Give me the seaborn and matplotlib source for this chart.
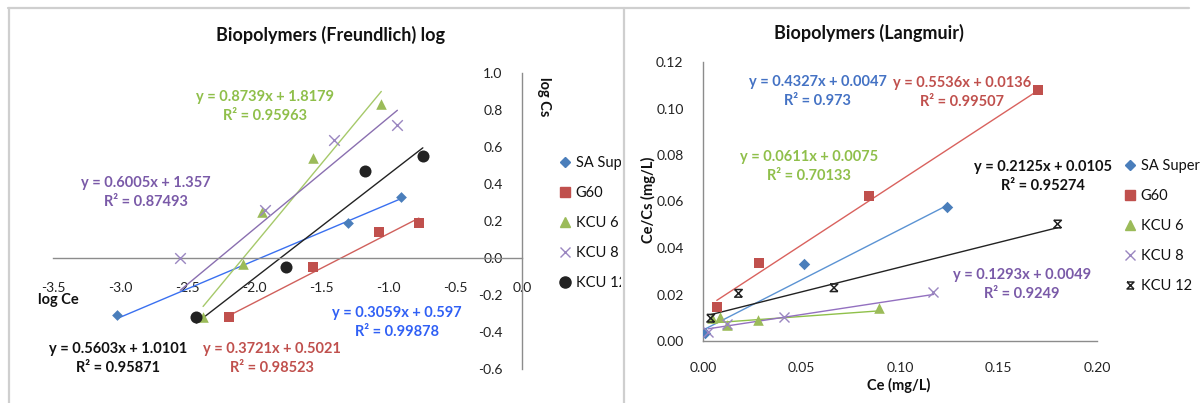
import numpy as np
import pandas as pd
import matplotlib
matplotlib.use("Agg")
import matplotlib.pyplot as plt
import seaborn as sns
from matplotlib.lines import Line2D
from matplotlib.path import Path
from matplotlib.transforms import Bbox, TransformedBbox

# ---------------- data ----------------
series = ["SA Super", "G60", "KCU 6", "KCU 8", "KCU 12"]

# Freundlich (log Ce, log Cs)
fr_sa_x = [-3.02, -1.30, -0.90]
fr_sa_y = [-0.31, 0.19, 0.33]
fr_g60_x = [-2.19, -1.56, -1.07, -0.77]
fr_g60_y = [-0.32, -0.05, 0.14, 0.19]
fr_k6_x = [-2.38, -2.08, -1.94, -1.56, -1.05]
fr_k6_y = [-0.32, -0.03, 0.25, 0.54, 0.83]
fr_k8_x = [-2.55, -1.92, -1.40, -0.93]
fr_k8_y = [0.00, 0.26, 0.64, 0.72]
fr_k12_x = [-2.43, -1.76, -1.17, -0.74]
fr_k12_y = [-0.32, -0.05, 0.47, 0.55]

fr_slope = [0.3059, 0.3721, 0.8739, 0.6005, 0.5603]
fr_icpt = [0.597, 0.5021, 1.8179, 1.357, 1.0101]
fr_r2 = ["0.99878", "0.98523", "0.95963", "0.87493", "0.95871"]

# Langmuir (Ce, Ce/Cs)
la_sa_x = [0.001, 0.0513, 0.124]
la_sa_y = [0.0033, 0.0331, 0.0578]
la_g60_x = [0.007, 0.0284, 0.0843, 0.170]
la_g60_y = [0.0148, 0.0334, 0.0624, 0.108]
la_k6_x = [0.0044, 0.0086, 0.012, 0.0278, 0.0893]
la_k6_y = [0.0097, 0.0105, 0.0069, 0.0090, 0.0141]
la_k8_x = [0.0027, 0.012, 0.041, 0.117]
la_k8_y = [0.0040, 0.0073, 0.0105, 0.0211]
la_k12_x = [0.0039, 0.018, 0.0665, 0.180]
la_k12_y = [0.0098, 0.0205, 0.0229, 0.0503]

la_slope = [0.4327, 0.5536, 0.0611, 0.1293, 0.2125]
la_icpt = [0.0047, 0.0136, 0.0075, 0.0049, 0.0105]
la_r2 = ["0.973", "0.99507", "0.70133", "0.9249", "0.95274"]

fr_xticks = [-3.5, -3.0, -2.5, -2.0, -1.5, -1.0, -0.5, 0.0]
fr_yticks = [-0.6, -0.4, -0.2, 0.0, 0.2, 0.4, 0.6, 0.8, 1.0]
la_xticks = [0.00, 0.05, 0.10, 0.15, 0.20]
la_yticks = [0.00, 0.02, 0.04, 0.06, 0.08, 0.10, 0.12]

# ---------------- style ----------------
sns.set_theme(style="white")
plt.rcParams["font.family"] = ["Lato", "DejaVu Sans"]

BLUE = "#4a7ebb"
RED = "#c0504d"
GREEN = "#9bbb59"
PURPLE = "#8064a2"
BLACK = "#222222"
AXIS = "#8c8c8c"

# asterisk-like marker: an X closed by bars at top and bottom
star = Path([(-1, 1), (1, 1), (-1, -1), (1, -1), (-1, 1), (1, -1)],
            [Path.MOVETO, Path.LINETO, Path.LINETO, Path.LINETO,
             Path.MOVETO, Path.LINETO])

W, H = 1200, 403
fig = plt.figure(figsize=(W / 100, H / 100), dpi=100)
fig.patch.set_facecolor("white")


def ax_rect(x0, x1, ytop, ybot):
    return [x0 / W, (H - ybot) / H, (x1 - x0) / W, (ybot - ytop) / H]


def fig_text(x, y, s, **kw):
    fig.text(x / W, 1 - y / H, s, ha="center", va="center", **kw)


def draw_series(ax, xs, ys, marker, color, size, slope, icpt, line_color,
                edge=None, lw=0.0):
    df = pd.DataFrame({"x": xs, "y": ys})
    kws = dict(marker=marker, s=size, zorder=3)
    if edge is None:
        kws.update(color=color, edgecolor=color, linewidth=lw)
    else:
        kws.update(facecolor="none", edgecolor=edge, linewidth=lw)
    sns.scatterplot(data=df, x="x", y="y", ax=ax, legend=False, **kws)
    fx = np.array([min(xs), max(xs)])
    fit = pd.DataFrame({"x": fx, "y": slope * fx + icpt})
    sns.lineplot(data=fit, x="x", y="y", ax=ax, color=line_color,
                 linewidth=1.0, zorder=2)


def equation(x, y, slope, icpt, r2, color):
    fig_text(x, y, "y = {:.4f}x + {:g}".format(slope, icpt), color=color,
             fontsize=10.5, fontweight="bold")
    fig_text(x, y + 19, "R\u00b2 = {}".format(r2), color=color,
             fontsize=10.5, fontweight="bold")


# ---------------- Freundlich panel ----------------
ax1 = fig.add_axes(ax_rect(53, 522, 73, 369))
ax1.set_facecolor("none")
draw_series(ax1, fr_sa_x, fr_sa_y, "D", BLUE, 30, fr_slope[0], fr_icpt[0], "#3a70f0")
draw_series(ax1, fr_g60_x, fr_g60_y, "s", RED, 52, fr_slope[1], fr_icpt[1], "#d0605c")
draw_series(ax1, fr_k6_x, fr_k6_y, "^", GREEN, 58, fr_slope[2], fr_icpt[2], "#a6c96a")
draw_series(ax1, fr_k8_x, fr_k8_y, "x", "#9a86c0", 58, fr_slope[3], fr_icpt[3], "#8a6fb0", lw=1.0)
draw_series(ax1, fr_k12_x, fr_k12_y, "o", BLACK, 75, fr_slope[4], fr_icpt[4], BLACK)

ax1.set_xlim(-3.5, 0.0)
ax1.set_ylim(-0.6, 1.0)
ax1.set_xticks(fr_xticks)
ax1.set_yticks(fr_yticks)
ax1.set_xticklabels(["{:.1f}".format(v) for v in fr_xticks])
ax1.set_yticklabels(["{:.1f}".format(v) for v in fr_yticks])
ax1.spines["left"].set_position(("data", 0.0))
ax1.spines["bottom"].set_position(("data", 0.0))
for s in ["top", "right"]:
    ax1.spines[s].set_visible(False)
for s in ["left", "bottom"]:
    ax1.spines[s].set_color(AXIS)
    ax1.spines[s].set_linewidth(1.0)
ax1.tick_params(axis="x", length=0, pad=17, labelsize=10, colors="#222222")
ax1.tick_params(axis="y", length=0, pad=14, labelsize=10, colors="#222222")
ax1.set_xlabel("")
ax1.set_ylabel("")

fig_text(331, 35, "Biopolymers (Freundlich) log", fontsize=13, fontweight="bold", color="#111111")
fig_text(58, 300, "log Ce", fontsize=10.5, fontweight="bold", color="#111111")
fig_text(544, 97, "log Cs", fontsize=10.5, fontweight="bold", color="#111111", rotation=270)

equation(265, 97, fr_slope[2], fr_icpt[2], fr_r2[2], "#8fbf4a")
equation(146, 183, fr_slope[3], fr_icpt[3], fr_r2[3], "#7a5aa8")
equation(397, 313, fr_slope[0], fr_icpt[0], fr_r2[0], "#3060f5")
equation(118, 349, fr_slope[4], fr_icpt[4], fr_r2[4], "#111111")
equation(272, 349, fr_slope[1], fr_icpt[1], fr_r2[1], "#c0504d")

# ---------------- Langmuir panel ----------------
ax2 = fig.add_axes(ax_rect(703, 1097, 62, 341))
ax2.set_facecolor("none")
draw_series(ax2, la_sa_x, la_sa_y, "D", BLUE, 34, la_slope[0], la_icpt[0], "#5b93d3")
draw_series(ax2, la_g60_x, la_g60_y, "s", RED, 52, la_slope[1], la_icpt[1], "#d9625e")
draw_series(ax2, la_k6_x, la_k6_y, "^", GREEN, 58, la_slope[2], la_icpt[2], "#8fc04a")
draw_series(ax2, la_k8_x, la_k8_y, "x", "#9a86c0", 52, la_slope[3], la_icpt[3], "#9370c0", lw=1.0)
draw_series(ax2, la_k12_x, la_k12_y, star, BLACK, 30, la_slope[4], la_icpt[4], BLACK,
            edge=BLACK, lw=1.1)

ax2.set_xlim(0, 0.20)
ax2.set_ylim(0, 0.12)
ax2.set_xticks(la_xticks)
ax2.set_yticks(la_yticks)
ax2.set_xticklabels(["{:.2f}".format(v) for v in la_xticks])
ax2.set_yticklabels(["{:.2f}".format(v) for v in la_yticks])
for s in ["top", "right"]:
    ax2.spines[s].set_visible(False)
for s in ["left", "bottom"]:
    ax2.spines[s].set_color(AXIS)
    ax2.spines[s].set_linewidth(1.0)
ax2.tick_params(axis="x", length=0, pad=15, labelsize=10, colors="#222222")
ax2.tick_params(axis="y", length=0, pad=14, labelsize=10, colors="#222222")
ax2.set_xlabel("")
ax2.set_ylabel("")

fig_text(869, 33, "Biopolymers (Langmuir)", fontsize=13, fontweight="bold", color="#111111")
fig_text(648, 200, "Ce/Cs (mg/L)", fontsize=10.5, fontweight="bold", color="#111111", rotation=90)
fig_text(899, 385, "Ce (mg/L)", fontsize=10.5, fontweight="bold", color="#111111")

equation(818, 82, la_slope[0], la_icpt[0], la_r2[0], "#4472c4")
equation(962, 83, la_slope[1], la_icpt[1], la_r2[1], "#c0504d")
equation(809, 157, la_slope[2], la_icpt[2], la_r2[2], "#8fbf4a")
equation(1043, 167, la_slope[4], la_icpt[4], la_r2[4], "#111111")
equation(1022, 275, la_slope[3], la_icpt[3], la_r2[3], "#7a5aa8")


# ---------------- legends ----------------
def legend_handles(last_marker, last_filled):
    hs = [
        Line2D([], [], ls="", marker="D", color=BLUE, markersize=5),
        Line2D([], [], ls="", marker="s", color=RED, markersize=7),
        Line2D([], [], ls="", marker="^", color=GREEN, markersize=7),
        Line2D([], [], ls="", marker="x", color="#9a86c0", markersize=7, markeredgewidth=1.0),
    ]
    if last_filled:
        hs.append(Line2D([], [], ls="", marker=last_marker, color=BLACK, markersize=8))
    else:
        hs.append(Line2D([], [], ls="", marker=last_marker, markerfacecolor="none",
                         markeredgecolor=BLACK, markersize=5, markeredgewidth=1.1))
    return hs


leg1 = fig.legend(legend_handles("o", True), series, loc="upper left",
                  bbox_to_anchor=(561 / W, 1 - 156 / H), frameon=False,
                  handlelength=0.6, handletextpad=0.4, labelspacing=1.1,
                  fontsize=10.5, borderpad=0, borderaxespad=0)
clip = TransformedBbox(Bbox.from_extents(0, 0, 621 / W, 1), fig.transFigure)
for t in leg1.get_texts():
    t.set_color("#111111")
    t.set_clip_box(clip)
    t.set_clip_on(True)

leg2 = fig.legend(legend_handles(star, False), series, loc="upper left",
                  bbox_to_anchor=(1126 / W, 1 - 159 / H), frameon=False,
                  handlelength=0.6, handletextpad=0.4, labelspacing=1.1,
                  fontsize=10.5, borderpad=0, borderaxespad=0)
for t in leg2.get_texts():
    t.set_color("#111111")

# ---------------- chart frames ----------------
FRAME = "#cfcfcf"
fig.add_artist(Line2D([8 / W, 1189 / W], [1 - 8 / H, 1 - 8 / H], color=FRAME, lw=1.6,
                      transform=fig.transFigure))
fig.add_artist(Line2D([9 / W, 9 / W], [0, 1 - 8 / H], color=FRAME, lw=1.6,
                      transform=fig.transFigure))
fig.add_artist(Line2D([624 / W, 624 / W], [0, 1 - 8 / H], color=FRAME, lw=1.6,
                      transform=fig.transFigure))

fig.savefig("out.png", dpi=100, facecolor="white")
